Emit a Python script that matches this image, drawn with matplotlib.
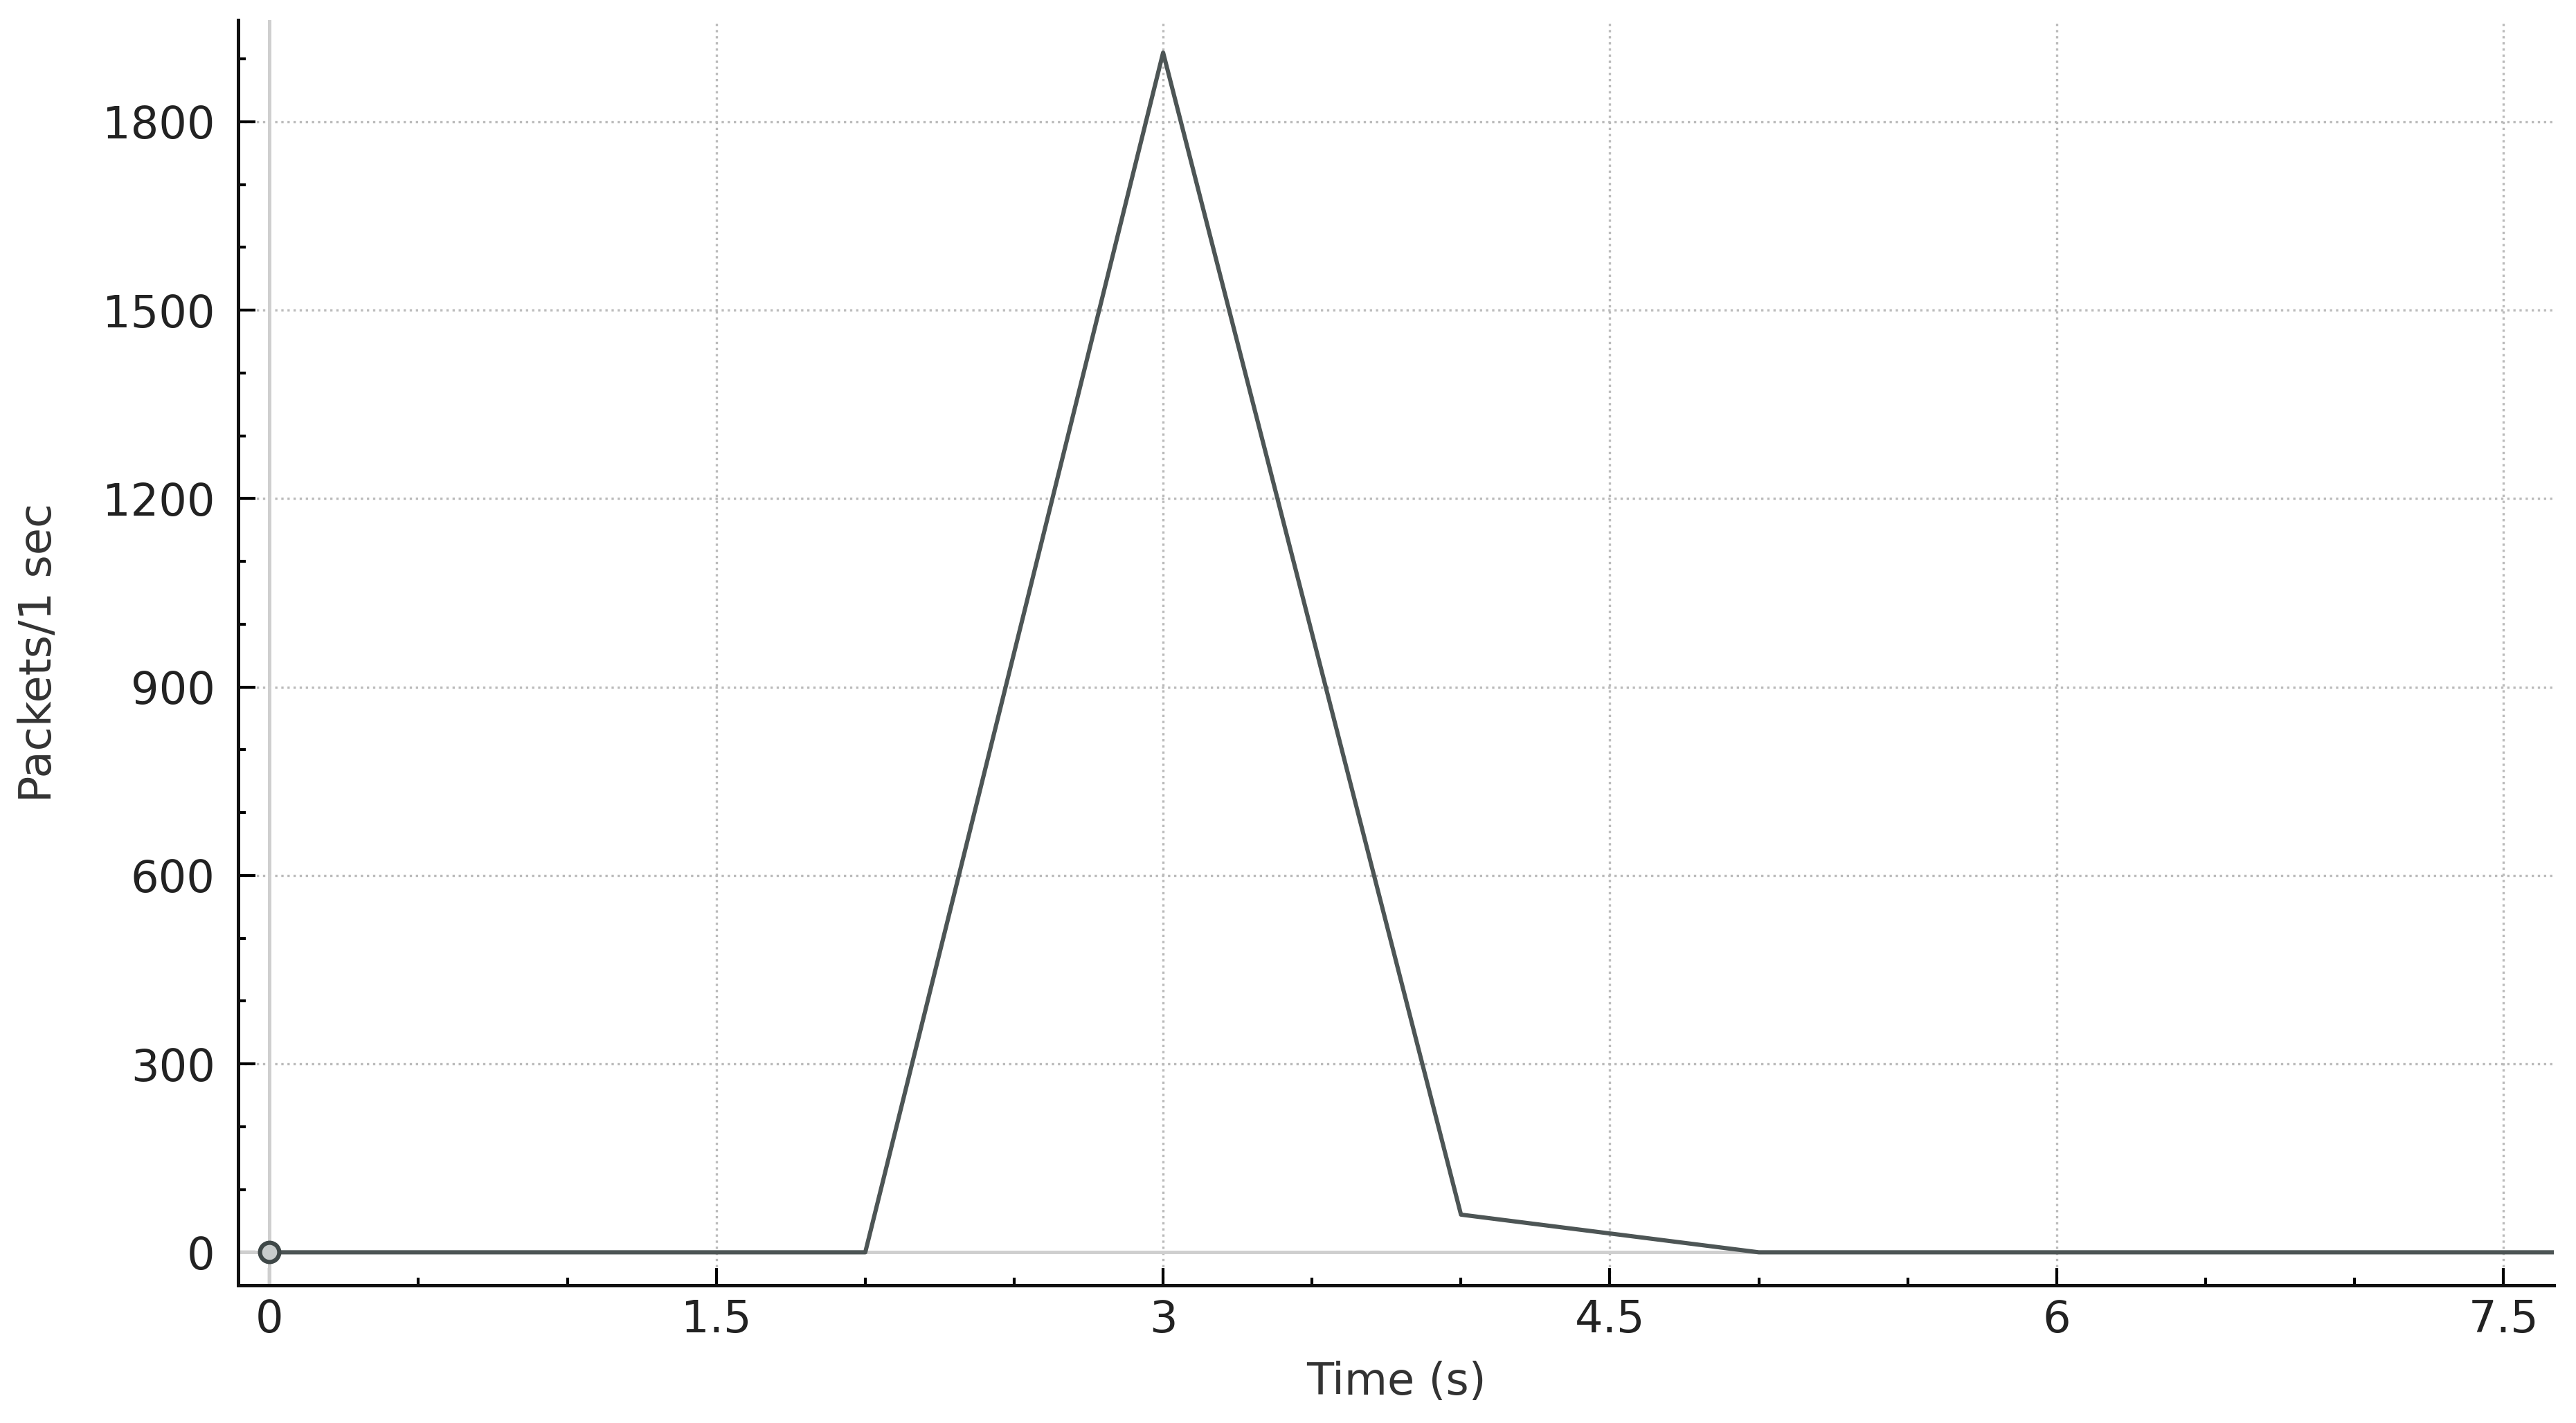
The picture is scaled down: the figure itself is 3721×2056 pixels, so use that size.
#!/usr/bin/env python3
"""Packets per second over time (I/O graph style)."""

import numpy as np
import matplotlib
matplotlib.use("Agg")
import matplotlib.pyplot as plt
from matplotlib.ticker import MultipleLocator

time_s = [0, 1, 2, 3, 4, 5, 6, 7, 8]
packets = [0, 0, 0, 1910, 60, 0, 0, 0, 0]
x_ticks = [0, 1.5, 3, 4.5, 6, 7.5]
x_tick_labels = ["0", "1.5", "3", "4.5", "6", "7.5"]
y_ticks = [0, 300, 600, 900, 1200, 1500, 1800]

fig = plt.figure(figsize=(18.605, 10.28), dpi=200)
ax = fig.add_axes([0.0925, 0.097, 0.899, 0.889])

# Reference lines at the origin
ax.axhline(0, color="#cfcfcf", lw=1.8, zorder=1)
ax.axvline(0, color="#cfcfcf", lw=1.8, zorder=1)

ax.plot(time_s, packets, color="#4d5555", lw=2.2, zorder=3)
ax.plot([time_s[0]], [packets[0]], marker="o", ms=10, mfc="#c8cccc",
        mec="#3f4848", mew=2.2, zorder=4)

ax.set_xlim(-0.105, 7.67)
ax.set_ylim(-52, 1962)
ax.set_xticks(x_ticks)
ax.set_xticklabels(x_tick_labels)
ax.set_yticks(y_ticks)
ax.xaxis.set_minor_locator(MultipleLocator(0.5))
ax.yaxis.set_minor_locator(MultipleLocator(100))

ax.tick_params(which="major", direction="in", length=9, width=1.5,
               labelsize=23, labelcolor="#222222")
ax.tick_params(axis="x", which="major", pad=7)
ax.tick_params(axis="y", which="major", pad=12)
ax.tick_params(which="minor", direction="in", length=4, width=1.5)

ax.grid(True, which="major", linestyle=":", color="#bbbbbb", lw=1.2)
ax.set_axisbelow(True)

for side in ("top", "right"):
    ax.spines[side].set_visible(False)
for side in ("left", "bottom"):
    ax.spines[side].set_linewidth(1.8)
    ax.spines[side].set_color("#111111")

ax.set_xlabel("Time (s)", fontsize=23, color="#333333", labelpad=10)
ax.set_ylabel("Packets/1 sec", fontsize=23, color="#333333", labelpad=22)

fig.savefig("out.png", dpi=200)
